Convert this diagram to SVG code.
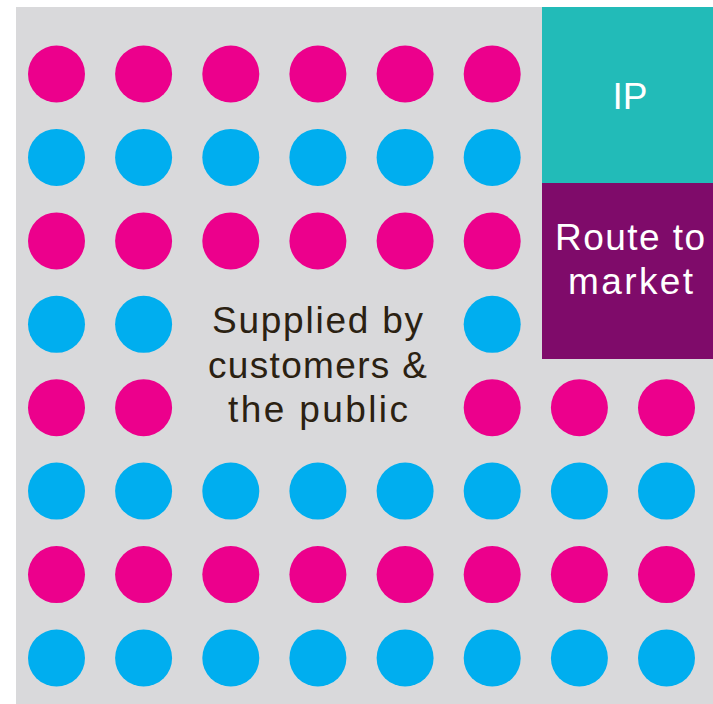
<svg xmlns="http://www.w3.org/2000/svg" width="713" height="704" viewBox="0 0 713 704">
<style>
.m{fill:#EC008C}
.c{fill:#00AEEF}
.t{font-family:"Liberation Sans",Arial,sans-serif;font-size:37px;text-anchor:middle}
.w{fill:#FFFFFF}
.d{fill:#2B2112}
</style>
<rect width="713" height="704" fill="#FFFFFF"/>
<rect x="16" y="7" width="697" height="697" fill="#D9D9DB"/>
<g id="dots">
<g class="m">
<circle cx="56.5" cy="74" r="28.5"/><circle cx="143.6" cy="74" r="28.5"/><circle cx="230.8" cy="74" r="28.5"/><circle cx="317.9" cy="74" r="28.5"/><circle cx="405.1" cy="74" r="28.5"/><circle cx="492.2" cy="74" r="28.5"/>
<circle cx="56.5" cy="240.9" r="28.5"/><circle cx="143.6" cy="240.9" r="28.5"/><circle cx="230.8" cy="240.9" r="28.5"/><circle cx="317.9" cy="240.9" r="28.5"/><circle cx="405.1" cy="240.9" r="28.5"/><circle cx="492.2" cy="240.9" r="28.5"/>
<circle cx="56.5" cy="407.7" r="28.5"/><circle cx="143.6" cy="407.7" r="28.5"/><circle cx="492.2" cy="407.7" r="28.5"/><circle cx="579.4" cy="407.7" r="28.5"/><circle cx="666.5" cy="407.7" r="28.5"/>
<circle cx="56.5" cy="574.6" r="28.5"/><circle cx="143.6" cy="574.6" r="28.5"/><circle cx="230.8" cy="574.6" r="28.5"/><circle cx="317.9" cy="574.6" r="28.5"/><circle cx="405.1" cy="574.6" r="28.5"/><circle cx="492.2" cy="574.6" r="28.5"/><circle cx="579.4" cy="574.6" r="28.5"/><circle cx="666.5" cy="574.6" r="28.5"/>
</g>
<g class="c">
<circle cx="56.5" cy="157.4" r="28.5"/><circle cx="143.6" cy="157.4" r="28.5"/><circle cx="230.8" cy="157.4" r="28.5"/><circle cx="317.9" cy="157.4" r="28.5"/><circle cx="405.1" cy="157.4" r="28.5"/><circle cx="492.2" cy="157.4" r="28.5"/>
<circle cx="56.5" cy="324.3" r="28.5"/><circle cx="143.6" cy="324.3" r="28.5"/><circle cx="492.2" cy="324.3" r="28.5"/>
<circle cx="56.5" cy="491.1" r="28.5"/><circle cx="143.6" cy="491.1" r="28.5"/><circle cx="230.8" cy="491.1" r="28.5"/><circle cx="317.9" cy="491.1" r="28.5"/><circle cx="405.1" cy="491.1" r="28.5"/><circle cx="492.2" cy="491.1" r="28.5"/><circle cx="579.4" cy="491.1" r="28.5"/><circle cx="666.5" cy="491.1" r="28.5"/>
<circle cx="56.5" cy="658" r="28.5"/><circle cx="143.6" cy="658" r="28.5"/><circle cx="230.8" cy="658" r="28.5"/><circle cx="317.9" cy="658" r="28.5"/><circle cx="405.1" cy="658" r="28.5"/><circle cx="492.2" cy="658" r="28.5"/><circle cx="579.4" cy="658" r="28.5"/><circle cx="666.5" cy="658" r="28.5"/>
</g>
</g>
<g id="ip">
<rect x="542" y="7" width="171" height="176" fill="#22BBB8"/>
<text class="t w" x="630" y="109">IP</text>
</g>
<g id="route">
<rect x="542" y="183" width="171" height="176" fill="#7F0B6A"/>
<text class="t w" x="630" y="250" textLength="150" lengthAdjust="spacing">Route to</text>
<text class="t w" x="630.5" y="294" textLength="125" lengthAdjust="spacing">market</text>
</g>
<g id="supplied">
<text class="t d" x="317.5" y="333" textLength="211" lengthAdjust="spacing">Supplied by</text>
<text class="t d" x="317.5" y="378" textLength="219" lengthAdjust="spacing">customers &amp;</text>
<text class="t d" x="318" y="422" textLength="180" lengthAdjust="spacing">the public</text>
</g>
</svg>
